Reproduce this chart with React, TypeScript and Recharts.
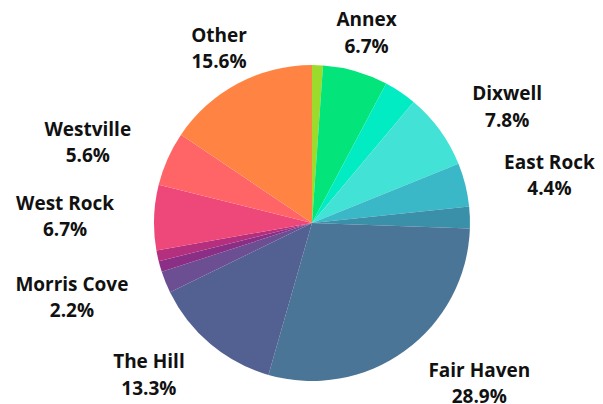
import { PieChart, Pie, Cell } from "recharts";

const neighborhoods = [
  "Amity",
  "Annex",
  "Beaver Hills",
  "Dixwell",
  "East Rock",
  "Edgewood",
  "Fair Haven",
  "The Hill",
  "Morris Cove",
  "Newhallville",
  "Prospect Hill",
  "West Rock",
  "Westville",
  "Other",
];
const counts = [1, 6, 3, 7, 4, 2, 26, 12, 2, 1, 1, 6, 5, 14];
const colors = [
  "#9cdb2c",
  "#03e57a",
  "#02ecc3",
  "#43e2d6",
  "#3bb8c7",
  "#3a90a9",
  "#4a7597",
  "#536192",
  "#6b4f92",
  "#8a2f85",
  "#b42f7e",
  "#ee4779",
  "#ff6467",
  "#ff8444",
];
const hiddenLabels = ["Amity", "Beaver Hills", "Edgewood", "Newhallville", "Prospect Hill"];

const total = counts.reduce((a, b) => a + b, 0);
const data = neighborhoods.map((name, i) => ({ name, value: counts[i] }));

const RAD = Math.PI / 180;

// half width of the wider line, so each two-line label is centred as a block
let ctx: CanvasRenderingContext2D | null = null;
function measure(a: string, b: string) {
  if (!ctx) ctx = document.createElement("canvas").getContext("2d");
  if (!ctx) return 0;
  ctx.font = "700 19px 'Open Sans'";
  return Math.max(ctx.measureText(a).width, ctx.measureText(b).width) / 2;
}

function renderLabel(props: any) {
  const { cx, cy, midAngle, name, value } = props;
  if (hiddenLabels.includes(name)) return null;
  const r = 198;
  const c = Math.cos(midAngle * RAD);
  const s = Math.sin(midAngle * RAD);
  const yc = cy - r * s;
  let x = cx + r * c;
  if (s <= 0.85) x += (c > 0 ? 1 : -1) * measure(name, "");
  const pct = ((value / total) * 100).toFixed(1) + "%";
  return (
    <text
      x={x}
      y={yc - 6.5}
      textAnchor="middle"
      fill="#111"
      style={{ fontFamily: "'Open Sans', sans-serif", fontWeight: 700, fontSize: 19 }}
    >
      <tspan x={x}>{name}</tspan>
      <tspan x={x} dy={26.5}>
        {pct}
      </tspan>
    </text>
  );
}

export default function App() {
  return (
    <div style={{ width: 603, height: 404, background: "#fff" }}>
      <style>{"body{margin:0}"}</style>
      <PieChart width={603} height={404} margin={{ top: 0, right: 0, bottom: 0, left: 0 }}>
        <Pie
          data={data}
          dataKey="value"
          nameKey="name"
          cx={312}
          cy={223}
          outerRadius={158}
          startAngle={90}
          endAngle={-270}
          stroke="none"
          label={renderLabel}
          labelLine={false}
          isAnimationActive={false}
        >
          {data.map((d, i) => (
            <Cell key={d.name} fill={colors[i]} />
          ))}
        </Pie>
      </PieChart>
    </div>
  );
}
